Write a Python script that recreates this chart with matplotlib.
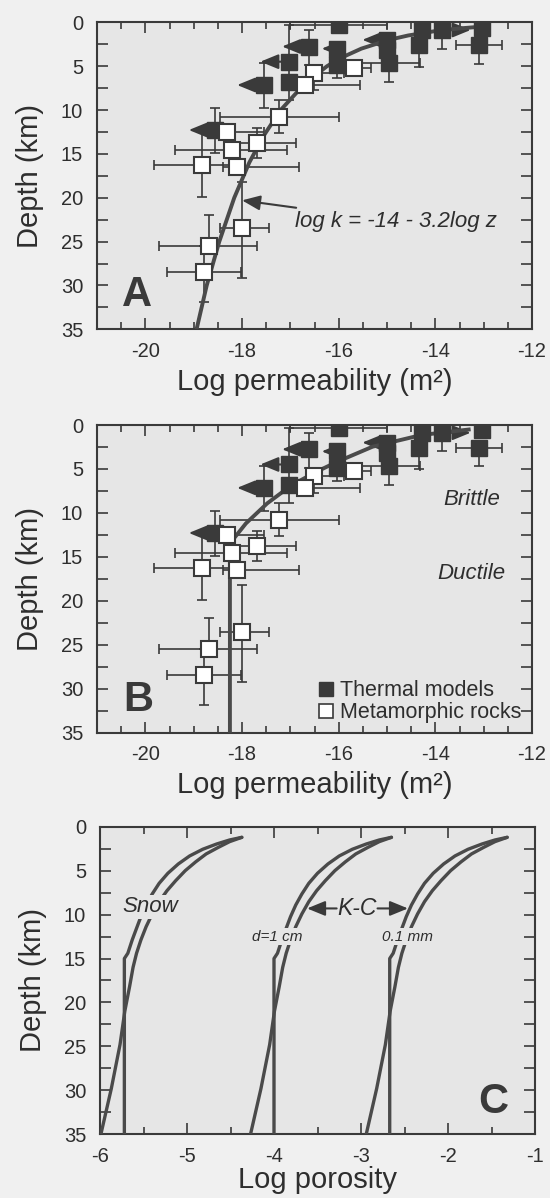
import matplotlib
matplotlib.use("Agg")
import matplotlib.pyplot as plt
from matplotlib.lines import Line2D
from matplotlib.ticker import MultipleLocator
import numpy as np

plt.rcParams['font.family'] = ['Liberation Sans', 'DejaVu Sans']
plt.rcParams['axes.unicode_minus'] = False

# ---------------- data ----------------
# Thermal models (filled squares): log k (m^2), depth (km), error-bar bounds
therm_logk = [-16.0, -14.27, -13.86, -13.03, -13.1, -14.34, -15.0, -15.0, -14.96, -16.03, -16.03, -16.62, -17.03, -17.03, -17.55, -18.55]
therm_z    = [0.35, 0.88, 0.88, 0.6, 2.6, 2.6, 2.0, 3.16, 4.68, 3.0, 4.9, 2.76, 4.49, 6.77, 7.15, 12.28]
therm_k_lo = [-17.0, -14.27, -13.86, -13.03, -13.58, -14.34, -15.0, -15.0, -15.96, -16.03, -16.03, -16.62, -17.03, -17.03, -17.55, -18.55]
therm_k_hi = [-15.0, -14.27, -13.86, -13.03, -12.62, -14.34, -15.0, -15.0, -14.31, -16.03, -16.03, -16.62, -17.03, -17.03, -17.55, -18.55]
therm_z_lo = [0.35, 0.88, 0.88, 0.6, 2.6, 2.6, 2.0, 3.16, 4.68, 3.0, 3.0, 0.88, 4.49, 0.35, 4.68, 9.8]
therm_z_hi = [0.35, 0.88, 3.0, 0.6, 4.7, 5.06, 2.0, 3.16, 6.77, 3.0, 6.4, 4.87, 4.49, 8.86, 9.8, 14.9]

# Bounds (arrows) on thermal-model values
bound_from_logk = [-13.86, -15.0, -16.03, -16.62, -17.03, -17.55, -18.55]
bound_z         = [0.88, 2.0, 3.0, 2.76, 4.49, 7.15, 12.28]
bound_tip_logk  = [-13.27, -15.51, -16.35, -17.17, -17.62, -18.1, -19.1]

# Metamorphic rocks (open squares)
meta_logk = [-15.69, -16.51, -16.69, -17.24, -18.32, -17.69, -18.2, -18.82, -18.11, -18.0, -18.69, -18.79]
meta_z    = [5.25, 5.82, 7.15, 10.76, 12.47, 13.8, 14.56, 16.27, 16.46, 23.49, 25.5, 28.44]
meta_k_lo = [-16.03, -16.51, -17.1, -18.45, -18.6, -18.17, -19.38, -19.82, -18.4, -18.45, -19.72, -19.55]
meta_k_hi = [-15.34, -15.9, -15.56, -15.99, -17.55, -16.89, -17.07, -18.0, -16.83, -17.45, -17.69, -18.03]
meta_z_lo = [5.25, 5.82, 7.15, 8.9, 12.47, 12.1, 14.56, 12.5, 16.46, 18.2, 21.97, 25.5]
meta_z_hi = [5.25, 7.72, 7.15, 12.66, 12.47, 15.5, 14.56, 19.9, 16.46, 29.2, 25.5, 31.86]

# Panel A fit curve (log k = -14 - 3.2 log z)
curveA_z    = [0.55, 0.7, 0.85, 1.0, 1.5, 2.0, 3.0, 4.0, 5.0, 7.0, 10.0, 13.0, 16.0, 20.0, 25.0, 30.0, 35.0]
curveA_logk = [-13.17, -13.5, -13.77, -14.0, -14.56, -14.96, -15.53, -15.93, -16.24, -16.7, -17.2, -17.56, -17.85, -18.16, -18.47, -18.73, -18.94]

# Panel B curve (brittle: decreasing; ductile: constant)
curveB_z    = [0.49, 1.14, 2.47, 4.18, 5.32, 6.83, 8.92, 11.2, 13.47, 35.0]
curveB_logk = [-13.27, -14.29, -15.3, -16.03, -16.46, -16.97, -17.48, -17.92, -18.25, -18.25]

# Panel C: porosity curves (log porosity vs depth), three pairs
porC_outer_z = [1.21, 1.51, 1.97, 2.57, 3.33, 4.24, 5.3, 6.44, 7.66, 8.91, 10.24, 11.56, 12.89, 14.4, 15.0, 35.0]
porC_inner_z = [1.21, 1.7, 2.35, 3.1, 4.0, 5.0, 6.14, 7.28, 8.53, 9.93, 11.38, 12.89, 14.4, 16.0, 18.2, 21.0, 24.8, 29.8, 35.0]
snow_outer = [-4.37, -4.51, -4.66, -4.82, -4.97, -5.10, -5.22, -5.32, -5.40, -5.47, -5.53, -5.58, -5.63, -5.68, -5.72, -5.72]
snow_inner = [-4.37, -4.51, -4.64, -4.78, -4.90, -5.02, -5.13, -5.23, -5.32, -5.40, -5.47, -5.53, -5.58, -5.62, -5.66, -5.715, -5.77, -5.87, -5.99]
cm_outer   = [-2.65, -2.79, -2.94, -3.10, -3.25, -3.38, -3.50, -3.60, -3.68, -3.75, -3.81, -3.86, -3.91, -3.96, -4.00, -4.00]
cm_inner   = [-2.65, -2.79, -2.92, -3.06, -3.18, -3.30, -3.41, -3.51, -3.60, -3.68, -3.75, -3.81, -3.86, -3.90, -3.94, -3.995, -4.05, -4.15, -4.27]
mm_outer   = [-1.32, -1.46, -1.61, -1.77, -1.92, -2.05, -2.17, -2.27, -2.35, -2.42, -2.48, -2.53, -2.58, -2.63, -2.67, -2.67]
mm_inner   = [-1.32, -1.46, -1.59, -1.73, -1.85, -1.97, -2.08, -2.18, -2.27, -2.35, -2.42, -2.48, -2.53, -2.57, -2.61, -2.665, -2.72, -2.82, -2.94]

xticks_perm = [-20, -18, -16, -14, -12]
xticks_por = [-6, -5, -4, -3, -2, -1]

# ---------------- style ----------------
DARK = '#3a3a3a'
LINE = '#4a4a4a'
TXT = '#2e2e2e'
AX_BG = '#e6e6e6'
FIG_BG = '#f0f0f0'

fig = plt.figure(figsize=(5.5, 11.98), dpi=100, facecolor=FIG_BG)
H = 1198.0
W = 550.0
axA = fig.add_axes([97 / W, 1 - 329.3 / H, 435 / W, 307 / H])
axB = fig.add_axes([97 / W, 1 - 732.7 / H, 435 / W, 307.7 / H])
axC = fig.add_axes([100 / W, 1 - 1134.3 / H, 435 / W, 307.6 / H])


def style(ax, xlim, xticks, xminor, xlabel, xlabelpad):
    ax.set_facecolor(AX_BG)
    ax.set_xlim(*xlim)
    ax.set_ylim(35, 0)
    ax.set_xticks(xticks)
    ax.xaxis.set_minor_locator(MultipleLocator(xminor))
    ax.yaxis.set_major_locator(MultipleLocator(5))
    ax.yaxis.set_minor_locator(MultipleLocator(2.5))
    ax.tick_params(which='both', direction='in', top=True, right=True,
                   color=DARK, width=1.2, labelsize=14.5, labelcolor=TXT)
    ax.tick_params(axis='x', which='major', length=8, pad=9)
    ax.tick_params(axis='x', which='minor', length=5)
    ax.tick_params(axis='y', which='both', length=8, pad=10)
    for s in ax.spines.values():
        s.set_color(DARK)
        s.set_linewidth(1.5)
    ax.set_ylabel('Depth (km)', fontsize=21, color=TXT, labelpad=12)
    ax.set_xlabel(xlabel, fontsize=21, color=TXT, labelpad=xlabelpad)


def draw_data(ax):
    tk = np.array(therm_logk); tz = np.array(therm_z)
    ax.errorbar(tk, tz,
                xerr=[tk - np.array(therm_k_lo), np.array(therm_k_hi) - tk],
                yerr=[tz - np.array(therm_z_lo), np.array(therm_z_hi) - tz],
                fmt='none', ecolor=DARK, elinewidth=1.2, capsize=3.5, capthick=1.2, zorder=3)
    mk = np.array(meta_logk); mz = np.array(meta_z)
    ax.errorbar(mk, mz,
                xerr=[mk - np.array(meta_k_lo), np.array(meta_k_hi) - mk],
                yerr=[mz - np.array(meta_z_lo), np.array(meta_z_hi) - mz],
                fmt='none', ecolor=DARK, elinewidth=1.2, capsize=3.5, capthick=1.2, zorder=3)
    for kf, z, kt in zip(bound_from_logk, bound_z, bound_tip_logk):
        ax.annotate('', xy=(kt, z), xytext=(kf, z),
                    arrowprops=dict(arrowstyle='-|>,head_length=1.1,head_width=0.45',
                                    mutation_scale=10, color=DARK, lw=1.5,
                                    shrinkA=0, shrinkB=0), zorder=4)
    ax.plot(tk, tz, 's', ms=11, mfc=DARK, mec=DARK, ls='none', zorder=6)
    ax.plot(mk, mz, 's', ms=11, mfc='white', mec=DARK, mew=1.5, ls='none', zorder=7)


# ---------------- Panel A ----------------
style(axA, (-21, -12), xticks_perm, 0.5, 'Log permeability (m²)', 5)
axA.plot(curveA_logk, curveA_z, color=LINE, lw=2.8, solid_capstyle='butt', zorder=5)
draw_data(axA)
axA.annotate('log k = -14 - 3.2log z', xy=(-18.0, 20.3), xytext=(-16.9, 22.7),
             fontsize=16, style='italic', color=TXT, ha='left', va='center',
             arrowprops=dict(arrowstyle='-|>,head_length=1.1,head_width=0.45',
                             mutation_scale=10, color=DARK, lw=1.5, shrinkA=2, shrinkB=0),
             zorder=8)
axA.text(-20.49, 32.4, 'A', fontsize=30, fontweight='bold', color=DARK, ha='left', va='baseline')

# ---------------- Panel B ----------------
style(axB, (-21, -12), xticks_perm, 0.5, 'Log permeability (m²)', 5)
axB.plot(curveB_logk, curveB_z, color=LINE, lw=2.8, solid_capstyle='butt', zorder=5)
draw_data(axB)
axB.text(-13.25, 8.5, 'Brittle', fontsize=16, style='italic', color=TXT, ha='center', va='center')
axB.text(-13.25, 16.9, 'Ductile', fontsize=16, style='italic', color=TXT, ha='center', va='center')
axB.text(-20.46, 32.5, 'B', fontsize=30, fontweight='bold', color=DARK, ha='left', va='baseline')
h1 = Line2D([], [], ls='none', marker='s', ms=10, mfc=DARK, mec=DARK)
h2 = Line2D([], [], ls='none', marker='s', ms=10, mfc='white', mec=DARK, mew=1.2)
axB.legend([h1, h2], ['Thermal models', 'Metamorphic rocks'], loc='lower right',
           bbox_to_anchor=(0.975, 0.03), frameon=False, fontsize=15.5,
           handlelength=0.7, handletextpad=0.3, labelspacing=0.05,
           borderpad=0, borderaxespad=0, labelcolor=TXT)

# ---------------- Panel C ----------------
style(axC, (-6, -1), xticks_por, 0.5, 'Log porosity', 0)
for xs in (snow_outer, cm_outer, mm_outer):
    axC.plot(xs, porC_outer_z, color=LINE, lw=2.4, solid_capstyle='round',
             solid_joinstyle='round', zorder=4)
for xs in (snow_inner, cm_inner, mm_inner):
    axC.plot(xs, porC_inner_z, color=LINE, lw=2.4, solid_capstyle='round',
             solid_joinstyle='round', zorder=4)
lbl_box = dict(facecolor=AX_BG, edgecolor='none', pad=1.0)
axC.text(-5.42, 9.1, 'Snow', fontsize=16, style='italic', color=TXT, ha='center', va='center',
         bbox=lbl_box, zorder=6)
axC.text(-3.96, 12.5, 'd=1 cm', fontsize=11, style='italic', color=TXT, ha='center', va='center',
         bbox=lbl_box, zorder=6)
axC.text(-2.47, 12.5, '0.1 mm', fontsize=11, style='italic', color=TXT, ha='center', va='center',
         bbox=lbl_box, zorder=6)
axC.text(-3.045, 9.3, 'K-C', fontsize=16.5, style='italic', color=TXT, ha='center', va='center',
         zorder=6)
for x0, x1 in ((-3.28, -3.62), (-2.81, -2.46)):
    axC.annotate('', xy=(x1, 9.3), xytext=(x0, 9.3),
                 arrowprops=dict(arrowstyle='-|>,head_length=1.1,head_width=0.45',
                                 mutation_scale=10, color=DARK, lw=1.5, shrinkA=0, shrinkB=0),
                 zorder=6)
axC.text(-1.31, 32.6, 'C', fontsize=30, fontweight='bold', color=DARK, ha='right', va='baseline')

fig.savefig('out.png', dpi=100, facecolor=FIG_BG)
